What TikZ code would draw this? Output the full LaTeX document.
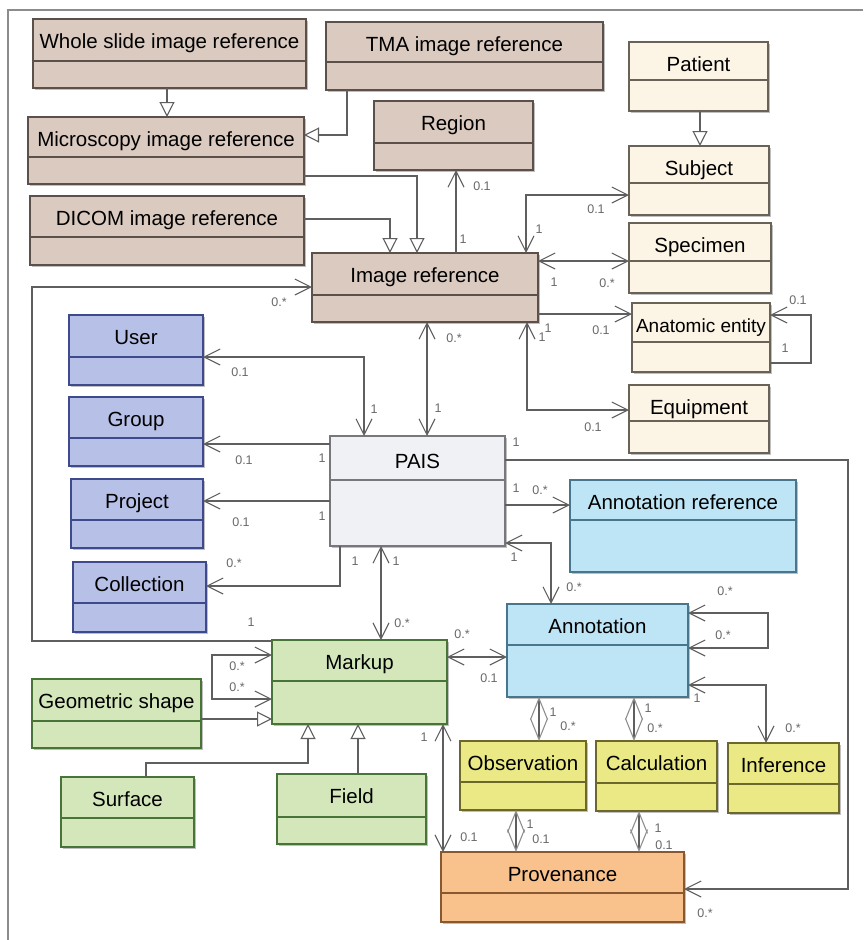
\documentclass[tikz,border=0pt]{standalone}
\usepackage{fontspec}
\setmainfont{Liberation Sans}
\usepackage{tikz}
\usetikzlibrary{arrows.meta,shadows}
\usepackage{xcolor}

\definecolor{brownfill}{RGB}{218,202,192}
\definecolor{brownline}{RGB}{92,80,74}
\definecolor{creamfill}{RGB}{252,244,228}
\definecolor{creamline}{RGB}{105,98,86}
\definecolor{bluefill}{RGB}{183,192,230}
\definecolor{blueline}{RGB}{62,74,140}
\definecolor{paisfill}{RGB}{239,241,244}
\definecolor{paisline}{RGB}{120,120,124}
\definecolor{cyanfill}{RGB}{190,229,246}
\definecolor{cyanline}{RGB}{72,118,140}
\definecolor{greenfill}{RGB}{211,231,186}
\definecolor{greenline}{RGB}{72,116,56}
\definecolor{yellowfill}{RGB}{234,233,133}
\definecolor{yellowline}{RGB}{108,104,44}
\definecolor{orangefill}{RGB}{249,194,140}
\definecolor{orangeline}{RGB}{136,88,48}
\definecolor{linkgray}{RGB}{95,95,95}
\definecolor{multgray}{RGB}{105,105,105}
\definecolor{framegray}{RGB}{140,140,140}

\begin{document}
\begin{tikzpicture}[x=1pt, y=-1pt,
  >={Straight Barb[length=16pt,width=16pt]},
  cls/.style={rectangle, anchor=north west, inner sep=0pt, outer sep=0pt,
    text height=29pt, line width=1.3pt, font=\fontsize{20.5}{24}\selectfont,
    drop shadow={shadow xshift=2pt, shadow yshift=-2pt, opacity=0.25, fill=black}},
  brownbox/.style={cls, fill=brownfill, draw=brownline},
  creambox/.style={cls, fill=creamfill, draw=creamline},
  bluebox/.style={cls, fill=bluefill, draw=blueline},
  paisbox/.style={cls, fill=paisfill, draw=paisline},
  cyanbox/.style={cls, fill=cyanfill, draw=cyanline},
  greenbox/.style={cls, fill=greenfill, draw=greenline},
  yellowbox/.style={cls, fill=yellowfill, draw=yellowline},
  orangebox/.style={cls, fill=orangefill, draw=orangeline},
  link/.style={draw=linkgray, line width=1.1pt},
  gen/.style={link, -{Triangle[open,length=15pt,width=15pt,fill=white]}},
  pair/.style={link, {Straight Barb[length=21pt,width=17pt,color=linkgray!70]}-{Straight Barb[length=21pt,width=17pt,color=linkgray!70]}},
  mult/.style={font=\fontsize{12.5}{13}\selectfont, text=multgray, inner sep=0pt}]

\fill[white] (0,0) rectangle (863,940);
\useasboundingbox (0,0) rectangle (863,940);
\draw[framegray, line width=1.3pt] (8,940) -- (8,10) -- (863,10);

% Image references
\node[brownbox, minimum width=273pt, text depth=40pt] (wsi) at (33,19) {Whole slide image reference};
\node[brownbox, minimum width=277pt, text depth=39pt] (tma) at (326,22) {TMA image reference};
\node[brownbox, minimum width=276pt, text depth=38pt] (micro) at (28,117) {Microscopy image reference};
\node[brownbox, minimum width=159pt, text depth=40pt] (region) at (374,101) {Region};
\node[brownbox, minimum width=274pt, text depth=40pt] (dicom) at (30,196) {DICOM image reference};
\node[brownbox, minimum width=226pt, text depth=40pt] (imgref) at (312,253) {Image reference};

% Subject side
\node[creambox, minimum width=139pt, text depth=40pt] (patient) at (629,42) {Patient};
\node[creambox, minimum width=140pt, text depth=40pt] (subject) at (629,146) {Subject};
\node[creambox, minimum width=142pt, text depth=41pt] (specimen) at (629,223) {Specimen};
\node[creambox, minimum width=138pt, text depth=40pt, font=\fontsize{19}{22}\selectfont] (anatomic) at (632,303) {Anatomic entity};
\node[creambox, minimum width=140pt, text depth=39pt] (equip) at (629,385) {Equipment};

% Users and projects
\node[bluebox, minimum width=134pt, text depth=41pt] (user) at (69,315) {User};
\node[bluebox, minimum width=134pt, text depth=40pt] (group) at (69,397) {Group};
\node[bluebox, minimum width=132pt, text depth=40pt] (project) at (71,479) {Project};
\node[bluebox, minimum width=133pt, text depth=41pt] (collection) at (73,562) {Collection};

% Core
\node[paisbox, minimum width=175pt, text height=32pt, text depth=78pt] (pais) at (330,436) {PAIS};
\node[cyanbox, minimum width=226pt, text depth=63pt] (annref) at (570,480) {Annotation reference};
\node[cyanbox, minimum width=181pt, text depth=64pt] (annot) at (507,604) {Annotation};

% Markup
\node[greenbox, minimum width=175pt, text depth=55pt] (markup) at (272,640) {Markup};
\node[greenbox, minimum width=169pt, text depth=40pt] (geoshape) at (32,679) {Geometric shape};
\node[greenbox, minimum width=133pt, text depth=41pt] (surface) at (61,777) {Surface};
\node[greenbox, minimum width=149pt, text depth=41pt] (field) at (277,774) {Field};

% Results
\node[yellowbox, minimum width=126pt, text depth=40pt] (observ) at (460,741) {Observation};
\node[yellowbox, minimum width=121pt, text depth=41pt] (calc) at (596,741) {Calculation};
\node[yellowbox, minimum width=111pt, text depth=41pt] (infer) at (728,743) {Inference};
\node[orangebox, minimum width=243pt, text depth=41pt] (prov) at (441,852) {Provenance};

% compartment lines
\foreach \n/\d/\c in {wsi/42/brownline, tma/40/brownline, micro/40/brownline, region/42/brownline,
    dicom/41/brownline, imgref/42/brownline, patient/38/creamline, subject/37/creamline,
    specimen/38/creamline, anatomic/39/creamline, equip/36/creamline, user/42/blueline,
    group/41/blueline, project/41/blueline, collection/41/blueline, pais/44/paisline,
    annref/40/cyanline, annot/41/cyanline, markup/41/greenline, geoshape/42/greenline,
    surface/41/greenline, field/43/greenline, observ/41/yellowline, calc/42/yellowline,
    infer/41/yellowline, prov/41/orangeline}
  \draw[\c, line width=1.3pt] ([yshift=-\d pt]\n.north west) -- ([yshift=-\d pt]\n.north east);

% generalizations
\draw[gen] (wsi.south -| 167,0) -- (micro.north -| 167,0);
\draw[gen] (tma.south -| 347,0) |- (micro.east |- 0,135);
\draw[gen] (micro.east |- 0,176) -| (imgref.north -| 417,0);
\draw[gen] (dicom.east |- 0,219) -| (imgref.north -| 390,0);
\draw[gen] (patient.south -| 700,0) -- (subject.north -| 700,0);
\draw[gen] (geoshape.east |- 0,719) -- (markup.west |- 0,719);
\draw[gen] (surface.north -| 146,0) |- (308,763) -- (markup.south -| 308,0);
\draw[gen] (field.north -| 358,0) -- (markup.south -| 358,0);

% associations of image reference
\draw[link, ->] (imgref.north -| 456,0) -- (region.south -| 456,0);
\draw[link, <->] (imgref.north -| 526,0) |- (subject.west |- 0,195);
\draw[link, <->] (imgref.east |- 0,261) -- (specimen.west |- 0,261);
\draw[link, ->] (imgref.east |- 0,314) -- (anatomic.west |- 0,314);
\draw[link, ->] (anatomic.east |- 0,363) -- (811,363) -- (811,315) -- (anatomic.east |- 0,315);
\draw[link, <->] (imgref.south -| 527,0) |- (equip.west |- 0,410);
\draw[link, <->] (imgref.south -| 427,0) -- (pais.north -| 427,0);
\draw[link, ->] (markup.west |- 0,641) -| (32,287) -- (imgref.west |- 0,287);

% associations of PAIS
\draw[link, <->] (pais.north -| 364,0) |- (user.east |- 0,357);
\draw[link, ->] (pais.west |- 0,444) -- (group.east |- 0,444);
\draw[link, ->] (pais.west |- 0,501) -- (project.east |- 0,501);
\draw[link, ->] (pais.south -| 340,0) |- (collection.east |- 0,586);
\draw[link, <->] (pais.south -| 381,0) -- (markup.north -| 381,0);
\draw[link, ->] (pais.east |- 0,505) -- (annref.west |- 0,505);
\draw[link, <->] (pais.east |- 0,543) -| (annot.north -| 551,0);
\draw[link, ->] (pais.east |- 0,460) -| (848,889) -- (prov.east |- 0,889);

% annotation and markup
\draw[link, <->] (annot.east |- 0,648) -| (768,613) -- (annot.east |- 0,613);
\draw[link, <->] (annot.east |- 0,685) -| (infer.north -| 766,0);
\draw[link, <->] (markup.east |- 0,657) -- (annot.west |- 0,657);
\draw[link, <->] (markup.west |- 0,699) -| (212,655) -- (markup.west |- 0,655);
\draw[link, <->] (markup.south -| 443,0) -- (prov.north -| 443,0);
\draw[pair] (annot.south -| 539,0) -- (observ.north -| 539,0);
\draw[pair] (annot.south -| 634,0) -- (calc.north -| 634,0);
\draw[pair] (observ.south -| 516,0) -- (prov.north -| 516,0);
\draw[pair] (calc.south -| 639,0) -- (prov.north -| 639,0);

% multiplicities
\foreach \x/\y/\t [count=\i] in {482/186/0.1, 463/239/1, 596/209/0.1, 539/229/1,
    554/282/1, 607/283/0.*, 601/330/0.1, 548/328/1, 798/300/0.1, 785/348/1,
    542/337/1, 593/427/0.1, 454/338/0.*, 438/408/1, 279/302/0.*, 251/622/1,
    240/372/0.1, 374/409/1, 244/460/0.1, 322/458/1, 241/522/0.1, 322/516/1,
    234/563/0.*, 355/561/1, 396/561/1, 402/623/0.*, 516/488/1, 540/490/0.*,
    514/557/1, 574/587/0.*, 516/442/1, 705/913/0.*, 725/591/0.*, 723/635/0.*,
    697/698/1, 793/728/0.*, 462/634/0.*, 489/678/0.1, 553/712/1, 568/726/0.*,
    648/708/1, 655/728/0.*, 530/824/1, 541/839/0.1, 658/828/1, 664/845/0.1,
    424/737/1, 469/837/0.1, 237/666/0.*, 237/687/0.*}
  \node[mult] (m\i) at (\x,\y) {\t};
\end{tikzpicture}
\end{document}
